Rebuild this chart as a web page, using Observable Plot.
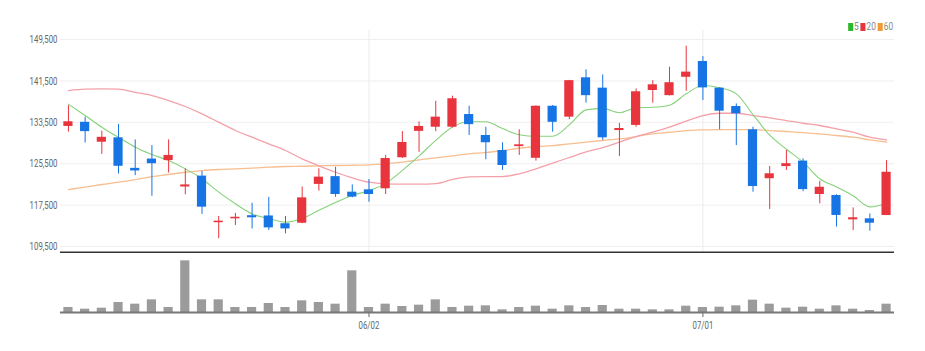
<!DOCTYPE html>
<html>
<head>
<meta charset="utf-8">
<script src="https://cdn.jsdelivr.net/npm/d3@7"></script>
<script src="https://cdn.jsdelivr.net/npm/@observablehq/plot@0.6"></script>
<style>
  html, body { margin: 0; padding: 0; background: #fff; }
  #wrap { position: relative; width: 925px; height: 351px; overflow: hidden; }
  #wrap svg { display: block; }
  #legend { position: absolute; top: 19px; left: 846px; font: 11.5px Roboto, sans-serif; color: #888; white-space: nowrap; transform-origin: 0 50%; transform: scaleX(0.72); }
  #legend i { display: inline-block; width: 7px; height: 8px; margin: 0 1px 0 3px; vertical-align: -1px; }
</style>
</head>
<body>
<div id="wrap"><div id="chart"></div><div id="legend"></div></div>
<script>
const dates = ["05/06","05/09","05/10","05/11","05/12","05/13","05/16","05/17","05/18","05/19",
  "05/20","05/23","05/24","05/25","05/26","05/27","05/30","05/31","06/02","06/03",
  "06/07","06/08","06/09","06/10","06/13","06/14","06/15","06/16","06/17","06/20",
  "06/21","06/22","06/23","06/24","06/27","06/28","06/29","06/30","07/01","07/04",
  "07/05","07/06","07/07","07/08","07/11","07/12","07/13","07/14","07/15","07/18"];
const opens = [132700,133500,129650,130500,124600,126400,126100,121000,123100,114100,
  114850,115450,115400,113900,114000,121500,123000,120000,120450,120650,
  126650,131750,132550,132550,135000,130950,128050,128800,126550,136600,
  134500,142100,140100,131900,132900,139650,138650,142200,145250,140100,
  136550,132050,122600,124950,126000,119550,119350,114650,114850,115500];
const highs = [136700,134500,131800,133100,130100,129000,130100,124500,124000,115300,
  115900,117850,119000,115300,121000,124500,124800,121400,122450,127100,
  131700,133600,137550,138550,136600,132550,129550,132050,136700,136750,
  141600,143650,142650,133300,139950,141550,144150,148200,146200,140150,
  137050,132550,124950,128050,126450,122100,119500,116950,115800,126100];
const lows = [131600,129500,127300,123500,123200,119200,123700,119500,115700,111000,
  113550,112900,112600,111950,113900,120200,119000,118900,118050,119550,
  126500,127700,131700,132400,130950,126250,124200,127100,126000,131600,
  134000,137200,130000,126900,132550,137200,138600,139500,137700,132050,
  129000,120000,116650,124200,120100,117750,113250,112600,112450,115450];
const closes = [133600,131700,130600,125000,124100,125500,127100,121400,117100,114400,
  115150,115050,113100,112900,118900,122900,119550,119050,119550,126500,
  129600,132700,134500,138050,133050,129550,125150,129150,136600,133500,
  141550,138650,130500,132300,139400,140750,141150,143200,140150,135650,
  135150,121100,123550,125500,120500,120950,115500,115050,114000,123850];
const ma5 = [137000,134800,132550,130600,128700,127300,126100,124500,122600,120000,
  117750,115800,114900,114200,114900,116500,118000,119350,120300,121700,
  124200,127000,130000,132600,133600,133600,132300,131100,130800,130800,
  133000,135900,136200,135350,136300,136400,136800,139000,140600,140160,
  139000,135000,131000,128300,125800,122600,121000,119300,117150,117800];
const ma20 = [139640,139900,139970,139900,139300,138670,137700,136550,135140,133520,
  131910,130620,129340,128050,126440,125100,123850,122770,121920,121610,
  121550,121550,121650,122450,122950,123020,123020,123550,124510,125600,
  126700,127800,128600,129650,130750,131580,132550,133710,134810,135250,
  135250,134810,134360,133840,133320,132880,132240,131580,130620,130110];
const ma60 = [120510,120960,121480,121920,122440,123020,123410,123850,124180,124380,
  124510,124640,124820,124960,125010,125090,125150,125200,125280,125480,
  125790,126250,126640,127020,127410,127650,128050,128490,128820,129010,
  129340,129650,129980,130280,130750,131270,131580,131910,132040,132100,
  132100,132100,131910,131720,131520,131270,130950,130620,130110,129650];
const volumes = [15,10,13,30,25,38,15,155,38,38,
  15,15,27,15,35,30,25,125,15,25,
  18,22,38,15,19,20,8,15,19,10,
  20,15,21,10,10,8,8,19,15,16,
  20,37,25,13,16,10,20,10,6,25];
const yTicks = [109500,117500,125500,133500,141500,149500];
const xTicks = ["06/02","07/01"];
const legendItems = [["5","#2cb82c"],["20","#e8343c"],["60","#f19a36"]];

const UP = "#e8343c", DOWN = "#1674e4";
const rows = dates.map((d, i) => ({date: d, open: opens[i], high: highs[i], low: lows[i], close: closes[i],
  ma5: ma5[i], ma20: ma20[i], ma60: ma60[i], vol: volumes[i]}));
const col = d => d.close >= d.open ? UP : DOWN;
const font = 'Roboto, sans-serif';
const xScale = {type: "band", domain: dates, paddingInner: 0.45, paddingOuter: 0.2};
const yDomain = [108341, 151240];

const price = Plot.plot({
  width: 925, height: 253,
  marginLeft: 60, marginRight: 31, marginTop: 30, marginBottom: 1,
  style: {fontFamily: font, fontSize: "11.5px", color: "#666", background: "#fff"},
  x: {...xScale, axis: null},
  y: {domain: yDomain, ticks: yTicks, tickFormat: d3.format(","), tickSize: 0, tickPadding: 3, grid: true, label: null},
  marks: [
    Plot.ruleX(xTicks, {stroke: "#ececec"}),
    Plot.line(rows, {x: "date", y: "ma60", stroke: "#f7be90", strokeWidth: 1.3, curve: "monotone-x"}),
    Plot.line(rows, {x: "date", y: "ma20", stroke: "#f4a0a8", strokeWidth: 1.3, curve: "monotone-x"}),
    Plot.line(rows, {x: "date", y: "ma5", stroke: "#86d27a", strokeWidth: 1.1, curve: "monotone-x"}),
    Plot.ruleX(rows, {x: "date", y1: "low", y2: "high", stroke: col, strokeWidth: 1}),
    Plot.barY(rows, {x: "date", y1: "open", y2: "close", fill: col}),
    Plot.ruleY([yDomain[0]], {stroke: "#333", strokeWidth: 2})
  ]
});

const volume = Plot.plot({
  width: 925, height: 98,
  marginLeft: 60, marginRight: 31, marginTop: 0, marginBottom: 39,
  style: {fontFamily: font, fontSize: "11.5px", color: "#666", background: "#fff"},
  x: {...xScale, ticks: xTicks, tickSize: 5, tickPadding: 3, label: null},
  y: {domain: [0, 177], axis: null},
  marks: [
    Plot.barY(rows, {x: "date", y: "vol", fill: "#9b9b9b"}),
    Plot.ruleY([0], {stroke: "#777", strokeWidth: 2})
  ]
});

const chart = document.getElementById("chart");
chart.appendChild(price);
chart.appendChild(volume);

// condense the axis labels horizontally (the reference uses a narrow face)
document.querySelectorAll('g[aria-label="y-axis tick label"] text, g[aria-label="x-axis tick label"] text').forEach(t => {
  const w = t.getComputedTextLength();
  if (w > 0) {
    t.setAttribute("textLength", (w * 0.68).toFixed(1));
    t.setAttribute("lengthAdjust", "spacingAndGlyphs");
  }
});

const legend = document.getElementById("legend");
legendItems.forEach(([label, c]) => {
  const sw = document.createElement("i");
  sw.style.background = c;
  legend.appendChild(sw);
  legend.appendChild(document.createTextNode(label));
});
</script>
</body>
</html>
